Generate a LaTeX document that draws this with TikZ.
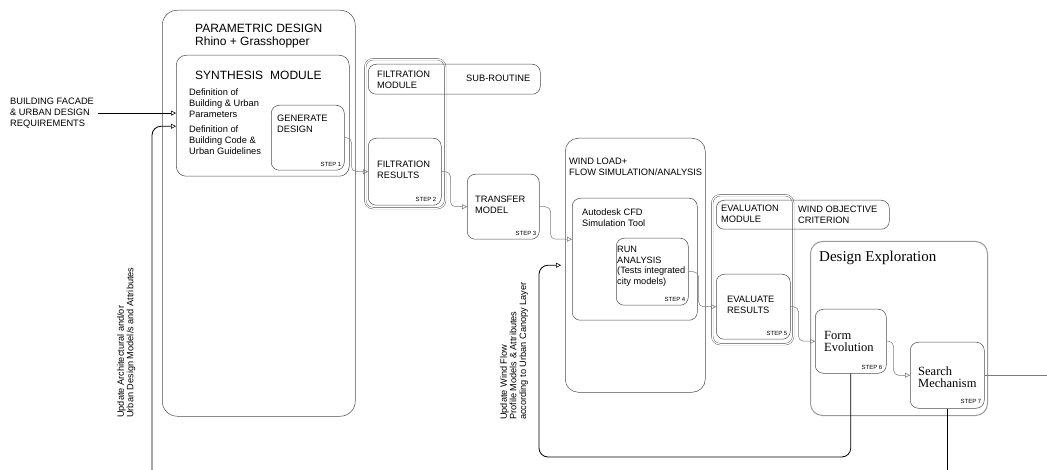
\documentclass[tikz,border=0pt]{standalone}
\usepackage{fontspec}
\setmainfont{Liberation Sans}
\newfontfamily\timesfont{Liberation Serif}
\usepackage{tikz}
\usetikzlibrary{arrows.meta}
\definecolor{lineGrey}{HTML}{4D4D4D}
\definecolor{flowGrey}{HTML}{7A7A7A}
\definecolor{frameGrey}{HTML}{9A9A9A}

\begin{document}
\begin{tikzpicture}[x=1pt, y=-1pt,
  box/.style={draw=lineGrey, line width=0.5pt, rounded corners=8pt, inner sep=0pt, anchor=north west},
  bigbox/.style={box, rounded corners=15pt},
  dframe/.style={box, double, double distance=1.2pt, line width=0.4pt},
  txt/.style={anchor=north west, inner sep=0pt, align=left, font=\fontsize{9.3}{10.8}\selectfont},
  head/.style={txt, font=\fontsize{12}{13}\selectfont},
  serif/.style={txt, font=\timesfont\fontsize{12.5}{12}\selectfont},
  sidenote/.style={txt, rotate=90, font=\fontsize{9.2}{9.6}\selectfont},
  steplbl/.style={anchor=south east, inner sep=0pt, font=\fontsize{6}{7}\selectfont},
  flow/.style={draw=flowGrey, line width=0.5pt, rounded corners=5pt, -{Triangle[open, length=5pt, width=5pt]}},
  feedback/.style={draw=black, line width=0.8pt, rounded corners=9pt}]
  \useasboundingbox (0,0) rectangle (1047,470);
  % parametric design zone
  \node[bigbox, minimum width=193pt, minimum height=406pt] (param) at (162,10) {};
  \node[head] at ([xshift=33pt, yshift=-14pt]param.north west) {PARAMETRIC DESIGN\\Rhino + Grasshopper};
  \node[box, rounded corners=10pt, minimum width=173pt, minimum height=121pt] (synth) at (176,55) {};
  \node[head] at ([xshift=19pt, yshift=-16pt]synth.north west) {SYNTHESIS\hspace{7pt}MODULE};
  \node[txt] at ([xshift=13pt, yshift=-34pt]synth.north west) {Definition of\\Building \& Urban\\Parameters};
  \node[txt] at ([xshift=13pt, yshift=-71pt]synth.north west) {Definition of\\Building Code \&\\Urban Guidelines};
  \node[box, minimum width=73pt, minimum height=65pt] (gen) at (271,105) {};
  \node[txt] at ([xshift=6pt, yshift=-10pt]gen.north west) {GENERATE\\DESIGN};
  \node[steplbl] at ([xshift=-3pt, yshift=4pt]gen.south east) {STEP 1};
  % input
  \node[txt] (req) at (10,98) {BUILDING FACADE\\\& URBAN DESIGN\\REQUIREMENTS};
  \draw[flow, draw=black] ([xshift=4pt]req.east) -- (req.east -| synth.west);
  % filtration
  \node[dframe, minimum width=80pt, minimum height=149pt] (filtframe) at (365,59) {};
  \node[box, minimum width=172pt, minimum height=30pt] (subr) at (368,64) {};
  \node[txt] at ([xshift=9pt, yshift=-7pt]subr.north west) {FILTRATION\\MODULE};
  \node[txt] at ([xshift=98pt, yshift=-11pt]subr.north west) {SUB-ROUTINE};
  \node[box, minimum width=73pt, minimum height=67pt] (filtres) at (368,138) {};
  \node[txt] at ([xshift=9pt, yshift=-23pt]filtres.north west) {FILTRATION\\RESULTS};
  \node[steplbl] at ([xshift=-5pt, yshift=4pt]filtres.south east) {STEP 2};
  \node[box, minimum width=72pt, minimum height=65pt] (transfer) at (467,174) {};
  \node[txt] at ([xshift=8pt, yshift=-22pt]transfer.north west) {TRANSFER\\MODEL};
  \node[steplbl] at ([xshift=-3pt, yshift=4pt]transfer.south east) {STEP 3};
  % wind load + cfd
  \node[box, rounded corners=13pt, minimum width=140pt, minimum height=254pt] (wind) at (565,138) {};
  \node[txt] at ([xshift=4pt, yshift=-20pt]wind.north west) {WIND LOAD+\\FLOW SIMULATION/ANALYSIS};
  \node[box, minimum width=125pt, minimum height=122pt] (cfd) at (572,198) {};
  \node[txt] at ([xshift=10pt, yshift=-11pt]cfd.north west) {Autodesk CFD\\Simulation Tool};
  \node[box, minimum width=72pt, minimum height=67pt] (run) at (616,238) {};
  \node[txt, font=\fontsize{9.2}{10.5}\selectfont] at ([xshift=1pt, yshift=-8pt]run.north west) {RUN\\ANALYSIS\\(Tests integrated\\city models)};
  \node[steplbl] at ([xshift=-3pt, yshift=4pt]run.south east) {STEP 4};
  % evaluation
  \node[dframe, minimum width=81pt, minimum height=149pt] (evalframe) at (712,195) {};
  \node[box, minimum width=173pt, minimum height=29pt] (wobj) at (716,200) {};
  \node[txt] at ([xshift=5pt, yshift=-5pt]wobj.north west) {EVALUATION\\MODULE};
  \node[txt] at ([xshift=82pt, yshift=-6pt]wobj.north west) {WIND OBJECTIVE\\CRITERION};
  \node[box, minimum width=74pt, minimum height=65pt] (evalres) at (716,274) {};
  \node[txt] at ([xshift=11pt, yshift=-22pt]evalres.north west) {EVALUATE\\RESULTS};
  \node[steplbl] at ([xshift=-3pt, yshift=4pt]evalres.south east) {STEP 5};
  % design exploration
  \node[box, draw=frameGrey, line width=1pt, rounded corners=12pt, minimum width=177pt, minimum height=174pt] (explore) at (810,241) {};
  \node[serif, font=\timesfont\fontsize{15}{15}\selectfont] at ([xshift=9pt, yshift=-10pt]explore.north west) {Design Exploration};
  \node[box, minimum width=71pt, minimum height=64pt] (form) at (815,309) {};
  \node[serif] at ([xshift=9pt, yshift=-22pt]form.north west) {Form\\Evolution};
  \node[steplbl] at ([xshift=-4pt, yshift=4pt]form.south east) {STEP 6};
  \node[box, minimum width=74pt, minimum height=66pt] (search) at (910,342) {};
  \node[serif] at ([xshift=8pt, yshift=-25pt]search.north west) {Search\\Mechanism};
  \node[steplbl] at ([xshift=-3pt, yshift=5pt]search.south east) {STEP 7};
  % steps
  \draw[flow] (gen.east) -- ++(7,0) |- (filtres.west);
  \draw[flow] (filtres.east) -- ++(9,0) |- (transfer.west);
  \draw[flow] (transfer.east) -- ++(11,0) |- ([yshift=20pt]cfd.west);
  \draw[flow] (run.east) -- ++(10,0) |- (evalres.west);
  \draw[flow] (evalres.east) -- ++(8,0) |- (form.west);
  \draw[flow] (form.east) -- ++(7,0) |- (search.west);
  % feedback loops
  \coordinate (fb1) at (152,470);
  \draw[feedback, -{Triangle[open, length=5pt, width=5pt, line width=0.5pt]}] (fb1) |- ([yshift=-10.5pt]synth.west);
  \node[sidenote] at (117,418) {Update Architectural and/or\\Urban Design Model/s and Attributes};
  \coordinate (fb2) at (539,457);
  \draw[feedback, -{Triangle[open, length=5pt, width=5pt, line width=0.5pt]}] (form.south) |- (fb2) |- ([xshift=-4pt]wind.west);
  \node[sidenote] at (500,420) {Update Wind Flow\\Profile Models \& Attributes\\according to Urban Canopy Layer};
  % outputs
  \coordinate (outB) at (947,470);
  \coordinate (outR) at (1047,375);
  \draw[line width=1pt] (search.south) -- (search.south |- outB);
  \draw[flowGrey, line width=0.5pt] (search.east) -- (search.east -| outR);
\end{tikzpicture}
\end{document}
